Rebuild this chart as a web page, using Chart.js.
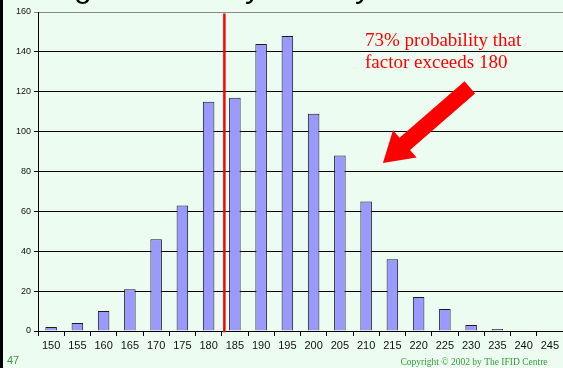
<!DOCTYPE html>
<html lang="en">

<head>
    <meta charset="UTF-8">
    <title>Histogram</title>
    <style>
        html, body { margin: 0; padding: 0; background: #edfcf1; }
        .grafico { width: 563px; height: 368px; }
    </style>
</head>

<body>
    <div class="grafico">
        <canvas id="myChart"></canvas>
    </div>

    <script src="https://cdn.jsdelivr.net/npm/chart.js"></script>
    <script>
        // dados
        const categorias = ['150', '155', '160', '165', '170', '175', '180', '185', '190', '195',
            '200', '205', '210', '215', '220', '225', '230', '235', '240', '245'];
        const frequencias = [2, 4, 10, 21, 46, 63, 115, 117, 144, 148, 109, 88, 65, 36, 17, 11, 3, 1, 0, 0];
        const yTicks = [0, 20, 40, 60, 80, 100, 120, 140, 160];
        const limite = 183;
        const anotacao = ['73% probability that', 'factor exceeds 180'];
        // seta: ponta e cauda em unidades do gráfico (índice da categoria, valor)
        const setaPonta = [12.64, 84.3];
        const setaCauda = [15.95, 122.2];

        function xDoIndice(x, idx) {
            const i = Math.floor(idx);
            const p0 = x.getPixelForValue(i);
            const p1 = x.getPixelForValue(i + 1);
            return p0 + (idx - i) * (p1 - p0);
        }

        function xDoValor(x, v) {
            return xDoIndice(x, (v - 150) / 5);
        }

        const extras = {
            id: 'extras',
            beforeDraw(chart) {
                const ctx = chart.ctx;
                ctx.save();
                ctx.fillStyle = '#edfcf1';
                ctx.fillRect(0, 0, chart.width, chart.height);
                ctx.restore();
            },
            afterDraw(chart) {
                const ctx = chart.ctx;
                const x = chart.scales.x;
                const y = chart.scales.y;
                ctx.save();

                // linha vermelha do limite
                const lx = xDoValor(x, limite);
                ctx.strokeStyle = '#ff0000';
                ctx.lineWidth = 2.5;
                ctx.beginPath();
                ctx.moveTo(lx, y.getPixelForValue(159.2));
                ctx.lineTo(lx, y.getPixelForValue(-0.6));
                ctx.stroke();

                // seta vermelha
                const tx = xDoIndice(x, setaPonta[0]), ty = y.getPixelForValue(setaPonta[1]);
                const cx = xDoIndice(x, setaCauda[0]), cy = y.getPixelForValue(setaCauda[1]);
                const ang = Math.atan2(ty - cy, tx - cx);
                const comp = Math.hypot(tx - cx, ty - cy);
                ctx.translate(cx, cy);
                ctx.rotate(ang);
                const haste = 8, cabeca = 18, compCabeca = 29;
                ctx.fillStyle = '#ff0000';
                ctx.beginPath();
                ctx.moveTo(0, -haste);
                ctx.lineTo(comp - compCabeca, -haste);
                ctx.lineTo(comp - compCabeca, -cabeca);
                ctx.lineTo(comp, 0);
                ctx.lineTo(comp - compCabeca, cabeca);
                ctx.lineTo(comp - compCabeca, haste);
                ctx.lineTo(0, haste);
                ctx.closePath();
                ctx.fill();
                ctx.setTransform(1, 0, 0, 1, 0, 0);

                // texto da anotação
                ctx.fillStyle = '#ff0000';
                ctx.font = '19px "Liberation Serif", "Times New Roman", serif';
                ctx.textAlign = 'left';
                ctx.textBaseline = 'alphabetic';
                ctx.fillText(anotacao[0], 365, 46);
                ctx.fillText(anotacao[1], 365, 68);

                // borda esquerda do slide
                ctx.fillStyle = '#000';
                ctx.fillRect(0, 0, 3, chart.height);

                // restos do título (só as descendentes aparecem)
                ctx.fillStyle = '#000';
                ctx.font = '32px "Liberation Sans", Arial, sans-serif';
                ctx.fillText('g', 74, -3);
                ctx.fillText('y', 245, -3);
                ctx.fillText('y', 355, -3);

                // rodapé
                ctx.fillStyle = '#3a9a3a';
                ctx.font = '11px "Liberation Sans", Arial, sans-serif';
                ctx.fillText('47', 7, 364);
                ctx.font = '9.5px "Liberation Serif", "Times New Roman", serif';
                ctx.textAlign = 'center';
                ctx.fillText('Copyright \u00A9 2002 by The IFID Centre', 474, 365);

                ctx.restore();
            }
        };

        const config = {
            type: 'bar',
            data: {
                labels: categorias,
                datasets: [{
                    data: frequencias,
                    backgroundColor: '#9999ff',
                    borderColor: '#1a1a1a',
                    borderWidth: 1,
                    barPercentage: 0.44,
                    categoryPercentage: 1
                }]
            },
            options: {
                responsive: true,
                maintainAspectRatio: false,
                animation: false,
                layout: { padding: { top: 12, right: 0, left: 0, bottom: 0 } },
                scales: {
                    x: {
                        grid: {
                            drawOnChartArea: false,
                            drawTicks: true,
                            tickLength: 5,
                            color: '#000'
                        },
                        border: { display: true, color: '#000', width: 1 },
                        ticks: {
                            color: '#111',
                            padding: 3,
                            font: { size: 11, family: '"Liberation Sans", Arial, sans-serif' },
                            maxRotation: 0,
                            autoSkip: false
                        },
                        afterFit(s) { s.height = 37; }
                    },
                    y: {
                        min: 0,
                        max: 160,
                        afterBuildTicks(s) { s.ticks = yTicks.map(v => ({ value: v })); },
                        grid: {
                            color: (c) => c.tick && c.tick.value === 160 ? '#888' : '#000',
                            tickLength: 4,
                            lineWidth: 1
                        },
                        border: { display: true, color: '#000', width: 1 },
                        ticks: {
                            color: '#111',
                            padding: 3,
                            font: { size: 9, family: '"Liberation Sans", Arial, sans-serif' }
                        },
                        afterFit(s) { s.width = 38; }
                    }
                },
                plugins: {
                    legend: { display: false },
                    tooltip: { enabled: false }
                }
            },
            plugins: [extras]
        };

        new Chart(document.getElementById('myChart'), config);
    </script>
</body>

</html>
